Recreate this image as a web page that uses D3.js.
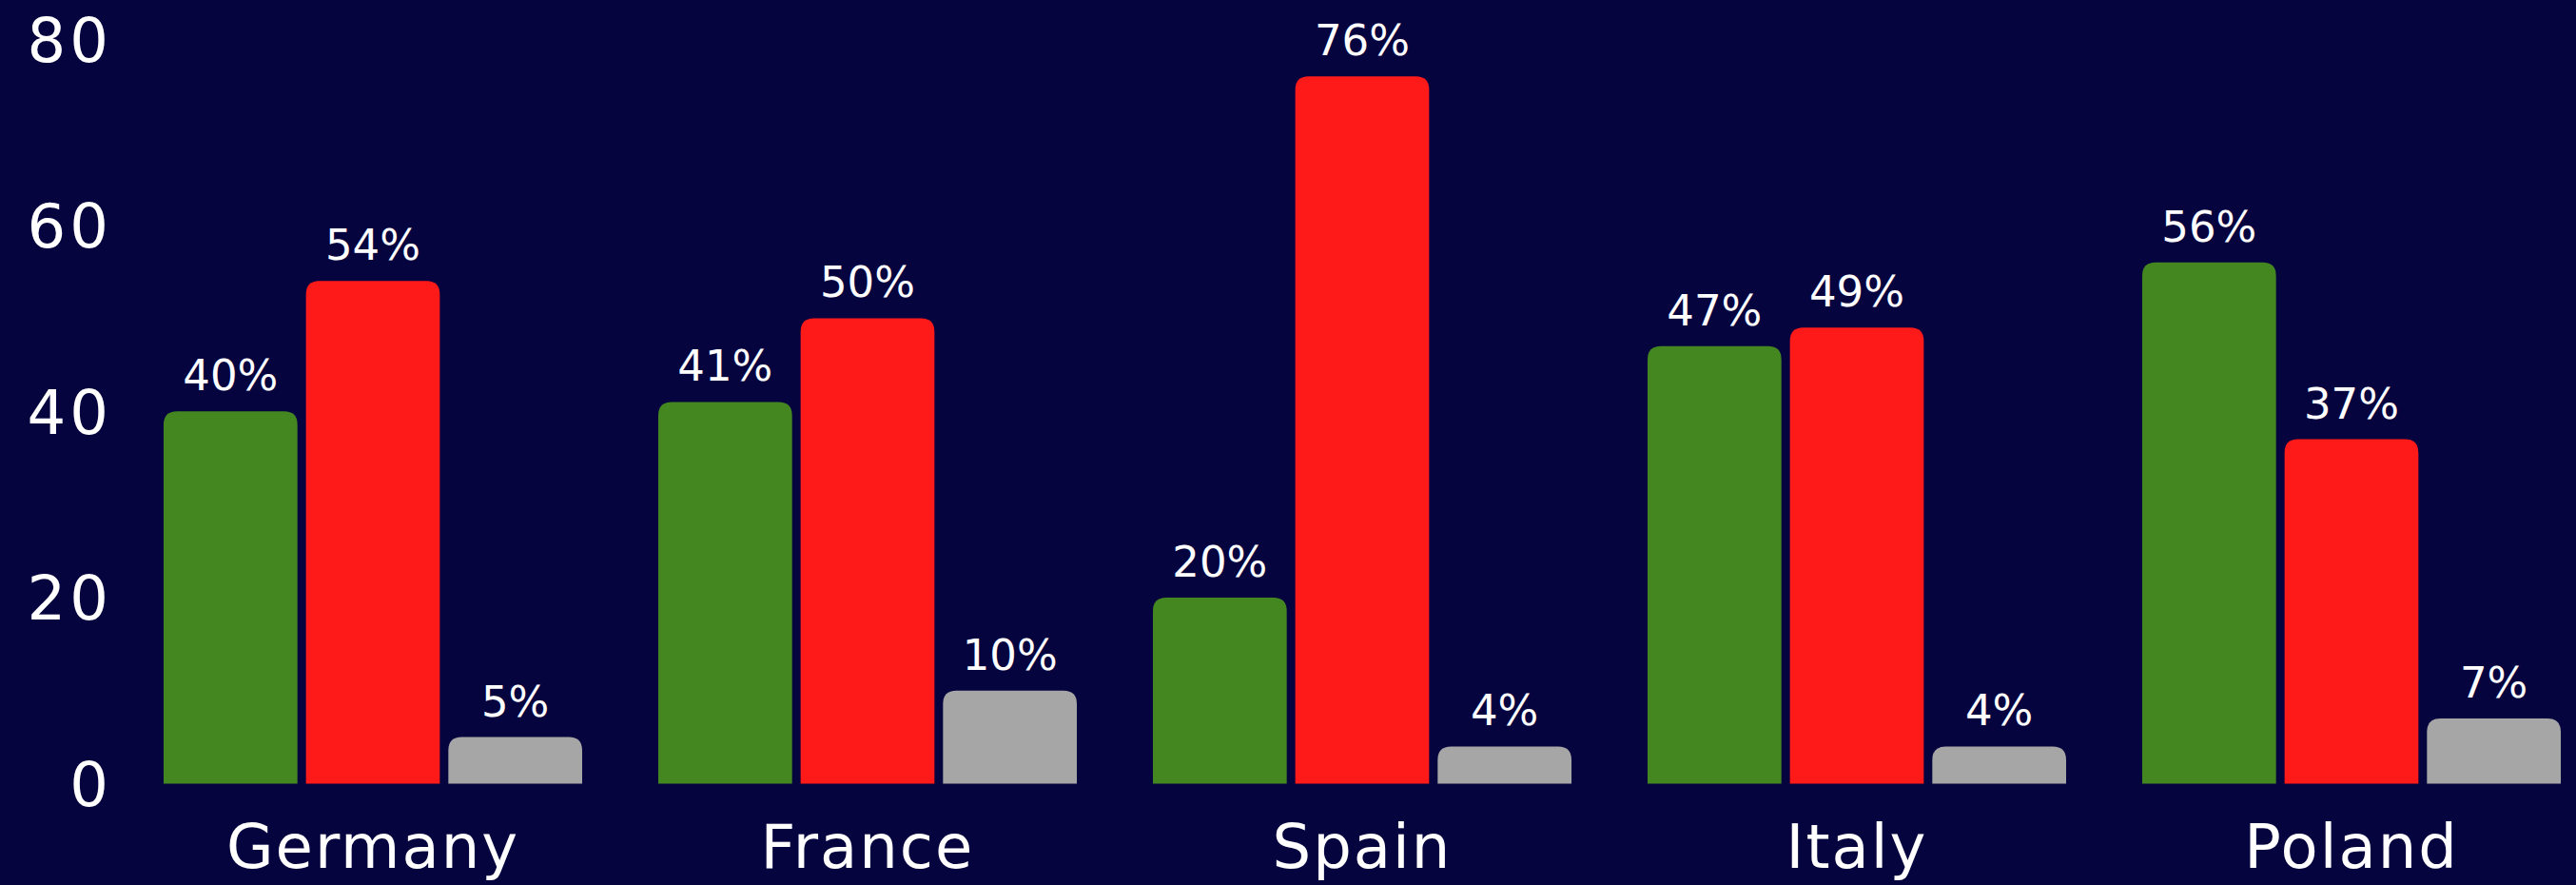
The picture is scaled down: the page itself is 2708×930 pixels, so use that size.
<!DOCTYPE html>
<html>
<head>
<meta charset="utf-8">
<script src="https://cdn.jsdelivr.net/npm/d3@7"></script>
<style>
  html, body { margin: 0; padding: 0; background: #06043f; }
  svg { display: block; }
</style>
</head>
<body>
<svg width="2708" height="930"></svg>
<script>
// data
var countries = ["Germany", "France", "Spain", "Italy", "Poland"];
var seriesKeys = ["green", "red", "grey"];
var greenValues = [40, 41, 20, 47, 56];
var redValues = [54, 50, 76, 49, 37];
var greyValues = [5, 10, 4, 4, 7];
var yTicks = [0, 20, 40, 60, 80];

var colors = {green: "#448721", red: "#ff1a1a", grey: "#a6a6a6"};

var svg = d3.select("svg"),
    width = +svg.attr("width"),
    height = +svg.attr("height");

svg.append("rect")
    .attr("width", width)
    .attr("height", height)
    .attr("fill", "#06043f");

var data = countries.map(function(c, i) {
    return {country: c, green: greenValues[i], red: redValues[i], grey: greyValues[i]};
});

var x0 = d3.scaleBand()
    .domain(countries)
    .range([172, 2692])
    .paddingInner(80 / 520)
    .paddingOuter(0);

var x1 = d3.scaleBand()
    .domain(seriesKeys)
    .range([0, x0.bandwidth()])
    .paddingInner(0.06);

var y = d3.scaleLinear()
    .domain([0, 80])
    .range([823.5, 41]);

// bar with rounded top corners only
function topRounded(x, yTop, w, h, r) {
    r = Math.min(r, h, w / 2);
    return "M" + x + "," + (yTop + h) +
        "V" + (yTop + r) +
        "Q" + x + "," + yTop + " " + (x + r) + "," + yTop +
        "H" + (x + w - r) +
        "Q" + (x + w) + "," + yTop + " " + (x + w) + "," + (yTop + r) +
        "V" + (yTop + h) + "Z";
}

var groups = svg.append("g")
    .selectAll("g")
    .data(data)
    .enter().append("g")
    .attr("transform", function(d) { return "translate(" + x0(d.country) + ",0)"; });

var bars = groups.selectAll("g")
    .data(function(d) { return seriesKeys.map(function(k) { return {key: k, value: d[k]}; }); })
    .enter().append("g");

bars.append("path")
    .attr("fill", function(d) { return colors[d.key]; })
    .attr("d", function(d) {
        return topRounded(x1(d.key), y(d.value), x1.bandwidth(), y(0) - y(d.value), 14);
    });

bars.append("text")
    .attr("x", function(d) { return x1(d.key) + x1.bandwidth() / 2; })
    .attr("y", function(d) { return y(d.value) - 22; })
    .attr("text-anchor", "middle")
    .attr("fill", "#fff")
    .attr("font-family", "DejaVu Sans, sans-serif")
    .attr("font-size", 45)
    .text(function(d) { return d.value + "%"; });

// y axis, labels only
var yAxis = svg.append("g")
    .attr("transform", "translate(118,0)")
    .call(d3.axisLeft(y).tickValues(yTicks).tickSize(0).tickPadding(0));

yAxis.select(".domain").remove();
yAxis.selectAll("text")
    .attr("fill", "#fff")
    .attr("font-family", "DejaVu Sans, sans-serif")
    .attr("font-size", 64)
    .attr("letter-spacing", 4)
    .attr("dy", "0.36em");

// x axis, labels only
var xAxis = svg.append("g")
    .attr("transform", "translate(0,912)")
    .call(d3.axisBottom(x0).tickSize(0).tickPadding(0));

xAxis.select(".domain").remove();
xAxis.selectAll("text")
    .attr("fill", "#fff")
    .attr("font-family", "DejaVu Sans, sans-serif")
    .attr("font-size", 64)
    .attr("letter-spacing", 2)
    .attr("dy", 0);
</script>
</body>
</html>
